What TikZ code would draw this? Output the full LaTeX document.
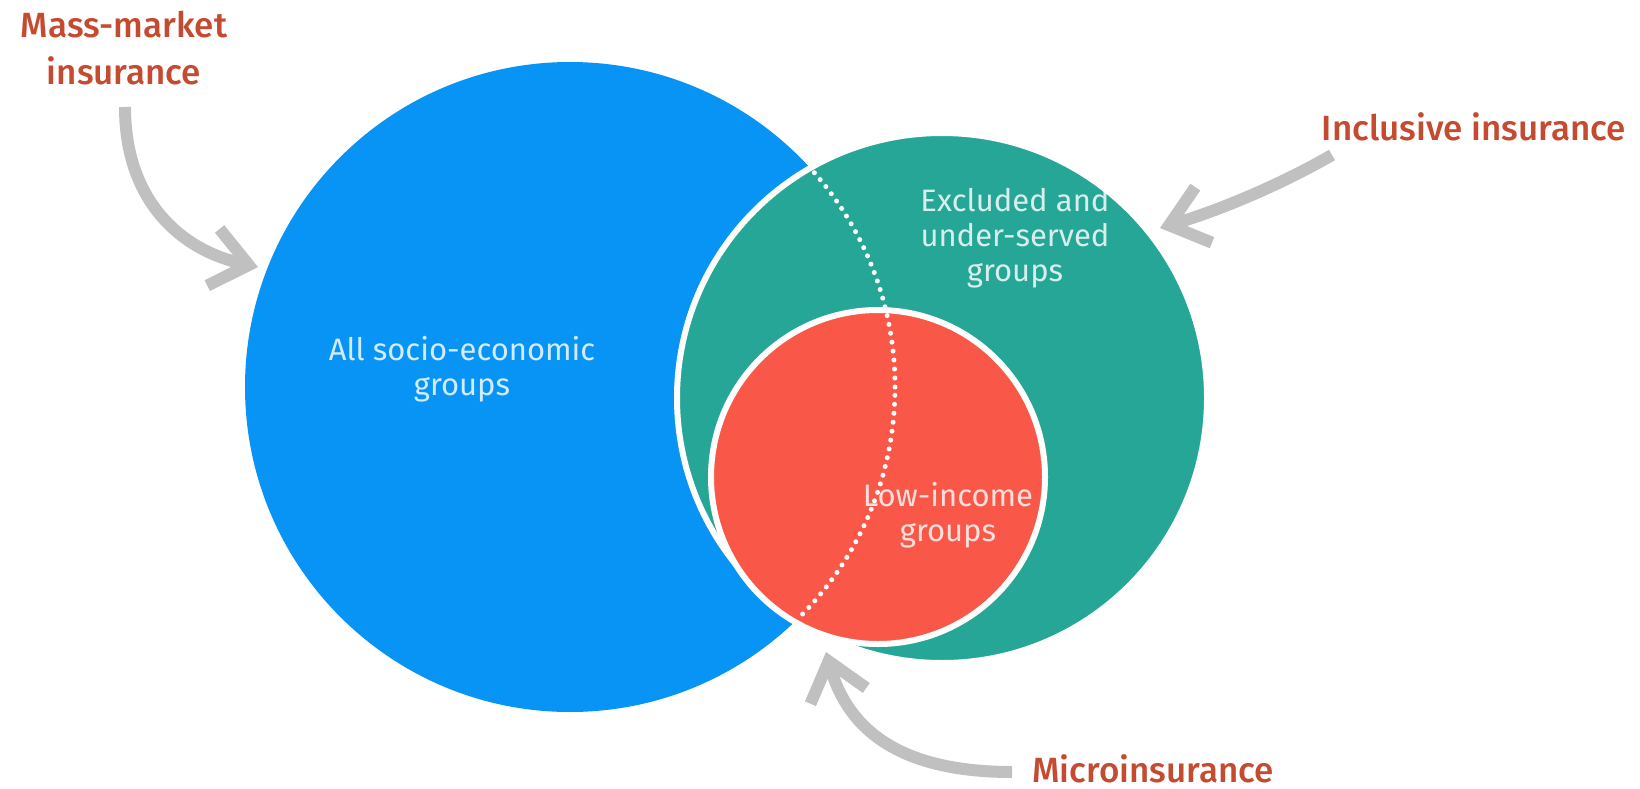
\documentclass[tikz,border=0pt]{standalone}
\usepackage{fontspec}
\setmainfont{Fira Sans}
\newfontfamily\labelfont{Fira Sans Medium}
\usetikzlibrary{arrows.meta}

\definecolor{bluefill}{RGB}{8,148,245}
\definecolor{tealfill}{RGB}{38,166,150}
\definecolor{redfill}{RGB}{249,88,72}
\definecolor{arrowgray}{RGB}{192,192,192}
\definecolor{labelred}{RGB}{196,74,48}

\begin{document}
\begin{tikzpicture}[x=1pt,y=-1pt,
  setcircle/.style={circle, inner sep=0pt, outer sep=0pt},
  ring/.style={draw=white, line width=6pt},
  grouptext/.style={align=center, text=white, text opacity=0.82, inner sep=0pt,
    font=\fontsize{31}{35}\selectfont},
  labeltext/.style={align=center, text=labelred, inner sep=0pt,
    font=\labelfont\fontsize{35}{47}\selectfont},
  pointer/.style={draw=arrowgray, line width=12pt,
    -{Straight Barb[length=36pt,width=58pt,sharp]}},
  hiddenedge/.style={draw=white, line width=5pt, line cap=round,
    dash pattern=on 0pt off 9pt}
]
\useasboundingbox (0,0) rectangle (1640,789);
\fill[white] (0,0) rectangle (1640,789);

% the three sets
\node[setcircle, fill=bluefill, minimum size=650pt] (allgroups) at (570,387) {};
\node[setcircle, fill=tealfill, ring, minimum size=530pt] (excluded) at (942,398) {};
\node[setcircle, fill=redfill, ring, minimum size=334pt] (lowincome) at (878,477) {};

% hidden part of the large circle, dotted inside the green one
\begin{scope}
  \clip (942,398) circle[radius=262pt];
  \draw[hiddenedge] (570,387) circle[radius=325pt];
\end{scope}

% texts inside the sets
\node[grouptext] (alltext) at (462,369) {All socio-economic\\groups};
\node[grouptext] (excltext) at (1015,238) {Excluded and\\under-served\\groups};
\node[grouptext] (lowtext) at (948,515) {Low-income\\groups};

% outer labels
\node[labeltext] (mass) at (124,48) {Mass-market\\insurance};
\node[labeltext, anchor=base] (incl) at (1474,140) {Inclusive insurance};
\node[labeltext, anchor=base] (micro) at (1153,782) {Microinsurance};

% pointers from labels to sets
\coordinate (massTail) at (125,107);
\coordinate (massTip) at (258,267);
\coordinate (inclTail) at (1332,155);
\coordinate (inclTip) at (1160,228);
\coordinate (microTail) at (1012,772);
\coordinate (microTip) at (826,652);

\draw[pointer] (massTail) .. controls (125,200) and (180,250) .. (massTip);
\draw[pointer] (inclTail) .. controls (1280,185) and (1220,210) .. (inclTip);
\draw[pointer] (microTail) .. controls (900,772) and (848,730) .. (microTip);
\end{tikzpicture}
\end{document}
